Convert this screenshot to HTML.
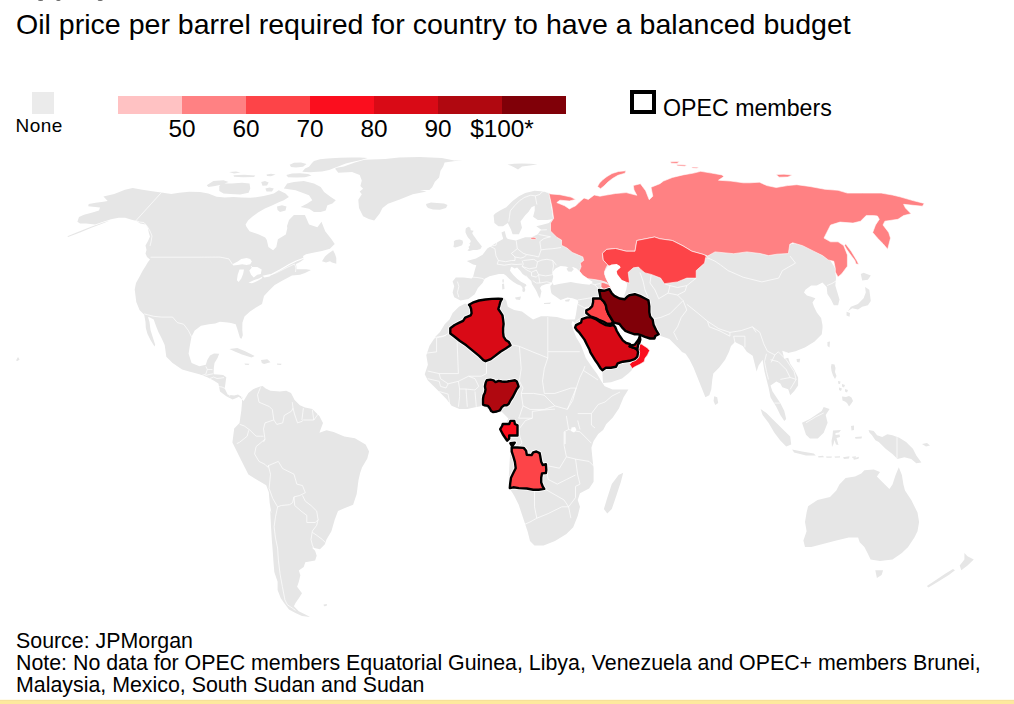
<!DOCTYPE html>
<html><head><meta charset="utf-8"><style>
html,body{margin:0;padding:0;background:#fff;}
body{width:1014px;height:704px;position:relative;overflow:hidden;font-family:"Liberation Sans",sans-serif;color:#000;}
.t{position:absolute;white-space:nowrap;}
.lab{position:absolute;top:116px;width:80px;text-align:center;font-size:23px;line-height:26px;transform:scaleX(1.06);}
svg{position:absolute;left:0;top:0;}
</style></head><body>
<div class="t" style="left:16px;top:5.8px;font-size:28.55px;line-height:36px;">Oil price per barrel required for country to have a balanced budget</div>
<div style="position:absolute;left:32px;top:92px;width:22px;height:21.5px;background:#ebebeb"></div>
<div class="t" style="left:15.5px;top:114.6px;font-size:19px;line-height:22px;letter-spacing:0.5px;">None</div>
<div style="position:absolute;left:118px;top:96px;width:64px;height:18px;background:#ffc2c3"></div><div style="position:absolute;left:182px;top:96px;width:64px;height:18px;background:#ff8183"></div><div style="position:absolute;left:246px;top:96px;width:64px;height:18px;background:#fd4448"></div><div style="position:absolute;left:310px;top:96px;width:64px;height:18px;background:#fb0e1e"></div><div style="position:absolute;left:374px;top:96px;width:64px;height:18px;background:#d90a16"></div><div style="position:absolute;left:438px;top:96px;width:64px;height:18px;background:#b00810"></div><div style="position:absolute;left:502px;top:96px;width:64px;height:18px;background:#800008"></div>
<div class="lab" style="left:142px">50</div><div class="lab" style="left:206px">60</div><div class="lab" style="left:270px">70</div><div class="lab" style="left:334px">80</div><div class="lab" style="left:398px">90</div><div class="lab" style="left:462px">$100*</div>
<div style="position:absolute;left:630px;top:90px;width:18px;height:16px;border:4px solid #000"></div>
<div class="t" style="left:663px;top:94.5px;font-size:23.2px;line-height:26px;">OPEC members</div>
<svg width="1014" height="704" viewBox="0 0 1014 704">
<path d="M77.4,221.8 L79,217 L84,214.7 L92.5,212.6 L99,210.4 L100,207.5 L88.2,206.3 L88.7,204 L95.8,202.8 L103.4,201.7 L107.7,201 L103.4,196.5 L114.2,194 L125,189.8 L132.7,188.1 L142.4,189.7 L152.2,191.3 L161.4,192.5 L171.3,194.1 L179.3,192.7 L189.2,191.7 L200,192.1 L208.3,193.5 L216.6,196.8 L224.9,197.4 L233.3,197 L241.4,197.6 L250.3,197.8 L256,197.3 L263.7,196.1 L269,194.8 L273.8,193.6 L278.8,190.2 L285.5,193.6 L288.9,197 L283.8,200.3 L278.8,202.2 L272,205.5 L264.9,208.5 L258,212.5 L252.5,216.5 L248,220.5 L245.6,224.6 L246.3,226.5 L249.5,231.3 L258.9,234.5 L265.2,237.6 L266.8,240 L268.4,247.1 L273.1,250.2 L276.3,247.1 L277.9,239.2 L285.8,234.5 L287.3,228.2 L287,225.9 L289,220 L293.9,214.9 L304.9,214.9 L309.1,224.6 L317.4,227.3 L321.5,221.8 L325.2,231.3 L331.5,239.2 L334.7,243.9 L329.9,248.7 L322,251 L314.2,252.6 L306,254.2 L303.1,256 L303.5,259.5 L300,262 L296,264 L296.8,269.2 L306.3,269.2 L311,270 L305,273 L300,274.7 L292,275.5 L282.6,280.5 L274.7,285 L268.4,291.3 L264,296 L262,303.9 L256,307.5 L250,311.5 L244.5,316.5 L242.4,322.8 L242.3,330 L242.8,335.2 L241.5,338.7 L240,338 L238.5,333 L237.3,328.9 L235.7,324.2 L231,323 L227.8,322.6 L219.9,321.8 L215.2,323.4 L208.9,324.2 L201,325.7 L194.7,330.5 L191.5,336.8 L190,344.7 L188.6,353.7 L191.6,363.1 L199.4,366.3 L205.8,364.7 L207.3,360 L210,355.5 L214,353.5 L219.2,353.7 L217.5,358 L214.5,363 L213.8,368 L213.6,374.2 L218,374.6 L223.1,375 L226.3,377.3 L225.5,383 L224.7,388.4 L227.8,394.7 L234.2,395.5 L238,394.5 L242.5,397.5 L242,399.4 L238.9,396.8 L235.7,398.3 L232.6,399.4 L226.3,396.3 L220,391.5 L218.4,383.6 L213.6,380.5 L207.3,377.3 L199.4,374.2 L190,371.8 L182.1,369.4 L172.6,363.1 L166.3,356.8 L164.7,345 L161.5,338 L158.4,332 L156,326 L153.7,319.4 L150,317.5 L148,317 L149.5,322 L150.5,330 L153,338 L155.2,344.7 L154.5,346.5 L150.5,340 L147.5,334 L145.8,328 L145.5,322 L144.2,314.7 L139.5,310 L136.3,302.1 L134.7,289.4 L136,283 L139.5,276.8 L142.5,271 L145.8,265.8 L148,262 L150,259.5 L147,257 L145.5,253.5 L146.5,250 L145.5,245.5 L148,241 L150,236.4 L148.9,233 L147.9,227.7 L145.7,224.5 L140.3,223.4 L135.9,220.7 L131.6,219.8 L125.1,217.8 L118.6,217.8 L111,219.3 L104,221.5 L95,224.5 L86,223.5 L80,223.5Z M68,236.9 L80,232.5 L92,227.6 L104,222.9 L110,220.5 L104,222.2 L91,226.8 L79,231.6 L67.5,236.2Z M206.7,185.2 L213.4,181 L223.5,180.2 L228.5,181.9 L221.8,184.4 L215.1,186 L208.4,186.9Z M219.3,186 L221.8,183.5 L231.9,183.5 L241.9,182.7 L249.5,183.5 L250.3,188.6 L248.6,192.7 L240.2,194.4 L230.2,193.9 L223.5,193.6 L219.3,191.1Z M233.5,175.3 L244,174.8 L255.3,175.6 L254,177 L243,177.2 L234,176.8Z M229,172 L236,171.4 L240.5,172.4 L234,173.4Z M266.5,174.6 L271,173.8 L275.6,174.6 L271,176.2 L267,176Z M261.2,182 L265,181 L268.7,182.5 L267,185.5 L262.5,185.8Z M265.4,188.5 L269.5,187.6 L273.8,188.6 L272,191.6 L266.5,191.4Z M286.3,175 L292,173.4 L300,173.3 L308,174 L311.5,175.4 L305,177.2 L296,177.6 L288,177.2Z M289.7,164.8 L294,162.8 L301,162.6 L306.5,164 L303,166.8 L296,167.6 L291,167Z M302.3,171.8 L305,168.5 L309,166.8 L312,163 L314,160.9 L320,159.2 L327.4,158.4 L340,157.8 L350.9,157.5 L360,157.6 L367.6,158 L360.9,160.1 L352,162 L345.8,163.4 L337.5,166.8 L329.1,170.1 L322,171.5 L317.4,171.8 L310,172.3Z M283.8,188.6 L287.2,183.5 L293.9,181.9 L303.9,181 L314,183.5 L320.7,186.9 L324.1,191.9 L330.8,196.9 L335.8,200.3 L332.4,203.6 L327.4,205.3 L325.7,210.4 L320.7,212 L314,212 L309,208.7 L300.6,207 L307.3,203.6 L312.3,200.3 L309,195.3 L302.3,192.7 L295.6,190.2 L290.5,189.4Z M277,206.5 L282,205.3 L286.5,206.5 L285.5,210.5 L280,212 L277.5,210Z M322,261.3 L325,256.5 L328.4,253.4 L333.1,250.2 L335,254 L336.3,258.1 L336.3,263.7 L332,262.5 L330,261.3 L326,262.5Z M335.5,168 L343.8,166.6 L354.9,162.4 L364.5,159.7 L385.2,159 L399,157.6 L419.7,156.9 L441.8,158 L454.3,160.4 L462.5,159.9 L444.6,162.4 L443.2,166.6 L440.5,170.7 L439.1,177.6 L434.9,181.8 L432.2,187.3 L429.4,190 L419.7,190 L426.6,191.4 L412.8,194.2 L399,199.7 L388,203.8 L382.5,208 L379.7,213.5 L374.2,220.4 L368.7,219 L363.1,216.3 L359,208 L358.3,199.7 L361.8,194.2 L359.7,191.4 L363.1,188.7 L360.4,185.9 L361.8,180.4 L359.7,174.9 L352.1,172.1 L338.3,172.8 L335.5,169.3Z M426,204 L431,202.5 L437,203 L444,203.5 L447.5,205 L446,208 L440,209.8 L433,209.5 L428,208 L426.5,206Z M229.4,348.9 L237.3,348.1 L245.2,351.3 L254.7,356 L251.5,357.6 L242,354.5 L234.2,351.3Z M261,360 L267.3,359.2 L270.5,362.3 L264.1,363.9 L261.8,363.1Z M244.5,363.4 L249.5,363.8 L248.5,365 L245,364.8Z M277,363.5 L281.5,363.8 L281,365 L277.2,364.8Z M242,399.4 L243.6,401 L248.4,393.1 L253.1,389.2 L259.4,386.8 L262.6,386 L265.7,388.4 L270.5,390.7 L279.9,391.5 L286.2,390.7 L291,393.1 L294.6,400 L299.9,405.3 L305,407.5 L312.3,408.9 L319.4,416 L323,423.1 L319.4,432.8 L326.5,430.2 L333.6,432 L344.3,436.4 L354.9,438.2 L365.6,444.4 L369.1,451.5 L367.3,458.6 L362,467.5 L360.2,472.8 L358.5,479.9 L356.7,494.1 L353.1,504.7 L344.3,508.3 L338,511 L334.7,519.8 L331.4,531.2 L326.5,539.4 L324.9,544.3 L320,549.2 L311.8,547.6 L315.1,550.8 L316.7,555.7 L315.1,560.6 L305.3,562.2 L303.7,567.1 L298.8,570.4 L300.4,575.3 L298.8,581.8 L297.1,586.7 L302,593.3 L298.8,598.2 L295.5,603.1 L293.9,606.3 L298.8,611.2 L305.3,614.5 L310.2,616.9 L302,616.1 L295.5,612.9 L289,609.6 L284.1,603.1 L280.8,598.2 L277.6,590 L277.6,581.8 L274.3,572 L273.5,562.2 L272.7,550.8 L271.8,539.4 L271,526.3 L270.2,510 L271.5,513.6 L269.7,503 L268.8,492.3 L266.2,485.2 L257.3,479.9 L248.4,474.6 L241.3,460.4 L236,449.7 L232.4,442.6 L233.3,435.5 L234.2,428.4 L239.5,423.1 L241.3,410.7 L242,402.6Z M548.9,193.1 L544.1,191.6 L534.7,190.8 L525.2,193.1 L518.9,196.3 L512.6,201 L506.3,207.3 L500,210.5 L495.2,213.6 L493.6,215.2 L494.4,223.1 L498.4,226.3 L503.1,226.3 L507.8,223.1 L511,229.4 L512.6,234.2 L518.9,234.2 L522,227.8 L520.5,221.5 L525.2,215.2 L528.4,212.1 L531.5,207.3 L534.7,205.8 L534.7,210.5 L533.1,216.8 L537.8,220 L547.3,220 L553,219 L548.9,223.1 L542.6,224.7 L536.3,226.3 L541,229.4 L537.8,234.2 L531.5,237.3 L525.2,237.3 L515.7,240.5 L507.8,238.9 L506.3,237.3 L504.7,231 L501.5,232.6 L503.1,238.9 L495.2,243.6 L487.3,248.4 L482.6,254.7 L476,258.5 L466.8,261 L473.1,264.5 L476.3,265.2 L474.7,270.5 L473.1,276.8 L471.6,278.4 L463.7,277.6 L455.8,277.6 L452.6,281.6 L454.2,286.3 L452.6,292.6 L454.2,297.3 L460.5,300.5 L468.4,298.9 L474.7,294.2 L477.9,287.9 L482.6,283.1 L484.7,278.7 L489.5,276.3 L495.8,274.7 L498.9,273.9 L503.7,273.9 L506,275.5 L509.2,278.7 L513.1,281.8 L517.1,284.2 L521,285.8 L522.6,288.1 L522.3,291.3 L524.2,292.3 L525.3,290 L524.6,287 L526.5,285.8 L525.8,284.2 L521,281.8 L517.1,278.7 L513.1,274.7 L510,270.8 L510.8,267.6 L511.6,266.8 L514.7,268.4 L517.1,267.6 L520.2,270.8 L522.6,273.9 L525.8,276.3 L528.9,278.7 L531.3,281 L532.1,284.2 L533.6,286.6 L535.2,288.9 L536.8,292.1 L538.4,296 L540,298.4 L540.7,294.4 L541.5,291.3 L540,288.1 L541.5,285.8 L545.5,284.2 L549.4,283.4 L551.5,282.3 L552.5,283.5 L550.3,286 L550.5,288.5 L551.2,292.4 L552,294.1 L557.1,297.5 L560.6,300 L567.4,297.5 L572.5,298.3 L577.6,300 L578.4,302.6 L577.6,304.3 L576.7,309.4 L575.9,314.5 L575,319 L574.1,319.4 L566.2,319.4 L556.8,317.1 L547.3,316.3 L541,316.3 L533.1,319.4 L528.4,316.3 L522,311.5 L514.2,310 L507.8,306.8 L506.3,300.5 L503.1,297.3 L501.5,298.9 L490.5,298.9 L479.4,300.5 L468.4,305.2 L465.2,303.6 L458.9,306.8 L452.6,313.1 L449.5,319.4 L444.7,324.2 L440,332 L435.8,336.3 L429.5,345.8 L426.3,355.2 L427.9,364.7 L424.7,374.2 L427.9,380.5 L434.2,386.8 L440.5,393.1 L446.8,399.4 L451.6,405.7 L459.4,408.9 L467.3,408.9 L475.2,407.3 L483.1,405.7 L489.4,410.5 L494.2,412.8 L502,412 L508.4,418.4 L505.2,424.7 L502,431 L505,437 L509,441 L510.7,445.5 L509.5,463.6 L508.4,486.4 L514.1,495.5 L518.6,504.5 L523.2,518.2 L527.7,531.8 L530,540.9 L534.5,545.5 L543.6,545.5 L555,540.9 L566.4,534.1 L573.2,527.3 L577.7,515.9 L580,506.8 L577.7,500 L580,493.2 L589.1,488.6 L593.6,481.8 L593.6,468.2 L592.5,459.1 L591.4,447.7 L593.6,440.9 L598.2,434.1 L603.1,430 L606.3,424.1 L612.6,417.8 L618.9,408.4 L623.6,397.3 L628.4,389.4 L625.2,389.4 L612.6,389.4 L604.7,386.3 L601.5,381.5 L596.8,373.6 L592.1,367.3 L585.8,357.9 L581,345.2 L576.3,337.4 L573.1,329.5 L571.5,324 L572.5,321 L574.5,322.5 L575.1,327.6 L576.8,330.2 L579.4,332.7 L581.9,336.1 L584.5,339.6 L587,344.7 L589.6,349.8 L590.4,352.3 L593,356.6 L595.6,360.8 L598.1,364.3 L600.7,368.5 L602.4,370.2 L602.5,376 L603.1,383 L611,382.3 L622,378.4 L628.3,373.6 L631.5,370.5 L632.2,368.5 L634.7,366.8 L639.8,364.3 L644.1,361.7 L645,358.3 L647.5,354.9 L649.6,350.6 L647.5,348.1 L645,346.4 L642.4,344.7 L639.8,343 L640.7,339.6 L639.8,335.3 L639,338.7 L637.3,341.3 L634.7,344.7 L631.3,345.5 L629.6,343.8 L626.2,343 L622.8,340.4 L619.4,335.3 L616.8,331 L615.1,326.8 L613.4,325.1 L613.5,322.3 L616.1,323.2 L619.5,324 L622,327.4 L625.4,330.8 L629.7,332.6 L634.8,334.3 L638.2,334.3 L640.8,335.1 L645,336.8 L650.1,338.5 L654.4,338.5 L655.3,336 L658.7,334.3 L659.4,335.5 L669.4,338.9 L674.1,343.7 L678.9,348.4 L682,352 L685.6,353.8 L689.6,359.7 L693.5,367.6 L697.5,377.5 L701.4,387.3 L705.4,397.2 L709.3,395.2 L711.3,389.3 L712.3,379.4 L713.3,373.5 L719.2,367.6 L725.1,359.7 L729,351.8 L731,345.9 L735,342 L742.8,345.9 L746.8,351.8 L752.7,355.8 L754.7,363.7 L756.6,371.6 L758.6,365.6 L762.6,359.7 L764.5,371.6 L766.5,379.4 L768.5,387.3 L770.5,397.2 L776.4,407.1 L780.3,414.9 L784.3,420.9 L786.2,418.9 L784.3,411 L780.3,403.1 L776.4,397.2 L772.4,391.3 L770.5,385.4 L776.4,381.4 L780.3,383.4 L782.3,387.3 L788.2,389.3 L790.2,395.2 L794.1,391.3 L798.1,385.4 L798.1,377.5 L794.1,369.6 L790.2,363.7 L788.2,357.8 L784.3,358.7 L782.4,351.2 L788,353.1 L795.5,351.2 L804.9,347.4 L814.3,341.8 L821.8,334.3 L822.5,328 L822.5,325.2 L821.1,318.1 L816.8,312.4 L814,306.7 L812.5,302.5 L815.4,298.2 L811.1,296.8 L806.9,295.4 L804,292.5 L805.4,289.7 L811.1,285.4 L816.8,285.4 L822.5,282.6 L826.7,286.9 L827.4,294 L831,299.6 L833.8,305.3 L838.1,305.3 L839.5,299.6 L837.4,292.5 L835.3,285.4 L836,278 L835,268 L830,260 L815,250 L795,243 L770,250 L720,248 L700,250 L680,243 L660,236 L640,237 L610,245 L598,252 L585,255 L575,250 L565,243 L557,235 L552,225 L553,218 L551,205Z M465.9,228.3 L468.4,226.8 L470.3,227.8 L470.8,230.2 L473.7,230.7 L472.2,233.1 L473.2,235 L475.1,237.5 L477.1,240.4 L479,242.8 L480.9,245.2 L481.9,246.6 L480.4,249.1 L477.1,250 L473.2,250 L469.3,251 L467.4,250.5 L469.3,248.6 L468.4,247.1 L469.3,246.2 L470.3,244.7 L469.3,243.7 L470.8,241.8 L470.3,239.9 L468.4,237.9 L467.4,236.5 L466.4,234.6 L465.5,232.6 L465.5,230.2Z M453.9,241.3 L455.8,239.9 L459.7,239.4 L462.6,240.4 L463,242.8 L462.1,245.2 L458.7,246.6 L455.3,247.6 L453.4,247.1 L453.9,244.2Z M507.5,164.5 L514,163.8 L522,163.6 L530,163.8 L537.5,164.2 L530,165.5 L522,166.5 L518,169.5 L514.5,167.5 L511,165.8Z M860.8,274.1 L863.6,272.7 L870.8,275.5 L867.9,279.8 L862.2,280.5Z M865.1,286.9 L869.3,289.7 L870.8,301.1 L867.9,305.3 L862.2,306.7 L858,309.6 L852.3,308.2 L848,311 L850.9,306.7 L858,303.9 L863.6,298.2 L865.8,292.5Z M846.6,311.8 L850,313 L849.5,316.7 L846.5,315.5Z M827.4,342 L830,341.5 L829.5,347.4 L827.5,346Z M796.5,359 L800.2,358.7 L799.5,362.4 L797,362Z M714.2,396.2 L717.2,397.2 L718.2,403.1 L715.2,405.1 L713.6,401.1Z M760.6,409 L766.5,413 L772.4,418.9 L778.3,424.8 L784.3,430.7 L790.2,436.6 L791.2,444.5 L786.2,446.5 L780.3,440.6 L774.4,432.7 L768.5,422.8 L762.6,415Z M792.1,449.5 L802,451.4 L813.8,453.4 L815.8,455.4 L806,455.4 L794.1,452.4Z M802,422.8 L809.9,418.9 L815.8,415 L821.7,411 L823.7,407.1 L829.6,409 L825.7,415 L827.6,422.8 L823.7,432.7 L817.8,438.6 L809.9,438.6 L806,434.7 L804,428.8Z M833,430.5 L841,430 L839,432.5 L835.5,433 L835.5,435 L839.5,434.5 L840,437 L836.5,438 L837.5,441.5 L838.5,445 L836,444.5 L834.5,440 L833.5,444 L832,447 L831.5,441 L832.5,436Z M831.5,364 L834.5,364.5 L835.5,368 L835,372 L836.5,376 L835,379 L833,375.5 L831.5,371 L831,367Z M842,396.5 L846,397 L849,396 L851.5,397.5 L853,401 L851,404 L849,406.5 L847,403 L845,401.5 L842.5,400.5Z M868.6,430 L873.7,430.9 L877.1,435.2 L882.2,436.9 L887.3,434.3 L892.4,435.2 L899.3,437.7 L906.1,442 L912.9,448.8 L916.3,455.6 L921.4,462.4 L916.3,463.3 L911.2,459 L904.4,457.3 L897.5,459 L892.4,453.9 L885.6,448.8 L878.8,442 L875.4,440.3 L872,435.2 L869.4,432.6Z M808.1,506.3 L817.5,500 L830,496.9 L836.3,490.6 L839.4,484.4 L845.6,478.1 L855,476.6 L861.3,473.4 L864.4,470.3 L873.8,469.4 L880,471.9 L876.9,476.6 L883.1,482.8 L889.4,489.1 L892.5,484.4 L895.6,475 L898.8,467.2 L901.9,475 L903.4,484.4 L905,490.6 L911.3,500 L914.4,506.3 L917.5,512.5 L919.1,521.9 L917.5,531.3 L914.4,537.5 L908.1,546.9 L901.9,553.1 L892.5,559.4 L880,560.9 L870.6,559.4 L867.5,553.1 L864.4,546.9 L859.7,542.2 L858.1,537.5 L848.8,537.5 L836.3,540.6 L823.8,543.8 L811.3,546.9 L805,546.9 L803.4,540.6 L806.6,531.3 L805,521.9 L806.6,512.5Z M875.3,570.3 L883.1,570.3 L881.6,575 L876.9,578.1Z M964.4,553.1 L967.5,556.3 L973.8,559.4 L967.5,565.6 L961.3,570.3 L959.7,565.6 L964.4,559.4Z M955,570.3 L948.8,575 L936.3,582.8 L928.4,587.5 L926.9,585.9 L936.3,579.7 L945.6,573.4 L953,569Z M607.3,497.7 L603.9,509.1 L607.3,513.6 L611.8,509.1 L616.4,495.5 L620.9,481.8 L623.2,472.7 L618.6,475 L611.8,484.1Z M502,284 L504,283.5 L504.5,289 L502.3,289.5Z M515,297.5 L521,296.5 L520,300 L516,299.5Z M544,303 L551,302.5 L550,304 L544,304Z M565,300 L570,299 L569,301.5 L565.5,301.5Z M842,384 L845,385 L844,387.5 L842,386.5Z M839,387.5 L842,388.5 L841,391 L839,390Z M845,389 L848,390 L847,392.5 L845,391.5Z M838,381 L840.5,381.5 L840,384 L838.3,383.7Z M853,458.5 L859,456.8 L858.5,458.8 L854,459.8Z M851,426 L854,425.5 L854,430 L851.5,430.5Z M855,437 L862,436.5 L861.5,438.5 L855.5,438.7Z M922,444 L927,443 L930,445.5 L926,446.5Z M502.3,279.5 L503.8,279.3 L503.8,282.5 L502.5,282.6Z M16,360.5 L18,357 L19.6,359.5 L17.5,360.9Z M323.5,604.5 L327,604 L326.5,606 L324,606.3Z M818,456.2 L823,455.8 L824,457.2 L818.5,457.4Z M826,456.6 L832,456.4 L831.5,457.8 L826.5,457.8Z M834.5,456.6 L840,456.2 L840,457.6 L835,457.8Z M843,457.2 L849.5,456.2 L849,458.6 L844,459Z M852,456.8 L856,456.3 L855.5,457.7 L852.5,457.9Z" fill="#e6e6e6"/>
<path d="M161.4,192.5 L135.9,220.7 M135.9,220.7 L139.5,222.0 L144.0,222.6 L147.0,226.0 L150.0,231.0 L152.0,236.0 L151.0,242.0 L150.0,246.0 M150.5,257.2 L170.0,257.2 L200.0,257.2 L220.0,257.1 L228.9,258.9 L232.4,264.2 M251.9,266.0 L251.0,267.0 M270.6,274.8 L276.0,273.0 L282.0,270.0 L288.0,267.0 L294.5,264.0 L296.0,268.0 L295.5,272.0 M144.2,313.9 L153.7,316.3 L161.6,317.1 L172.6,317.1 L177.3,322.6 L183.6,324.2 L188.4,330.5 L191.5,336.8 M205.8,366.3 L207.3,369.4 L205.8,374.2 L201.0,375.8 M207.3,369.4 L212.5,369.6 M205.5,375.5 L209.0,374.5 L213.0,373.8 M210.0,378.5 L213.6,377.0 L217.0,378.5 L220.0,378.2 L224.0,377.6 M218.4,386.5 L222.0,387.0 L225.0,388.4 M229.4,396.3 L230.5,393.5 M242.8,399.5 L241.3,397.0 M260.5,387.4 L257.5,394.8 L259.0,402.2 L269.4,406.6 L272.3,409.6 L273.8,419.9 L276.8,424.4 L282.7,422.9 L284.2,415.5 L291.6,411.1 L293.0,408.1 L292.3,402.2 M293.0,408.1 L294.5,414.0 L297.5,422.9 L301.9,421.4 L303.4,420.0 M303.4,408.1 L301.9,420.0 M312.3,409.6 L313.8,420.0 L318.2,414.0 M303.4,420.0 L313.8,420.0 M273.8,419.9 L265.0,422.9 L263.5,428.8 L265.0,439.2 L263.5,442.1 M263.5,436.2 L260.5,436.2 L256.1,436.2 L250.1,430.3 L244.2,425.9 L239.8,424.4 M248.7,430.3 L247.2,436.2 L239.8,442.1 L236.8,443.6 M265.0,439.2 L256.1,446.6 L254.6,454.0 L259.0,461.4 L264.9,464.3 L267.9,467.3 L268.4,465.7 L270.5,474.2 L269.1,488.4 L272.7,498.4 L277.6,506.9 M267.9,465.8 L278.3,461.4 L282.6,468.5 L294.0,474.2 L296.8,484.1 L302.5,485.6 L305.3,492.7 M277.6,506.9 L281.2,505.5 L289.7,504.7 L292.6,502.6 L294.0,496.9 L299.7,495.5 L305.3,492.7 M294.0,496.9 L294.7,505.5 L301.1,511.1 L306.8,515.4 L306.8,522.5 L315.3,522.5 L318.1,519.7 L316.7,511.1 L311.0,505.5 L305.3,501.2 L302.5,495.5 M318.1,519.7 L316.7,525.3 L312.4,531.0 L311.0,539.5 L312.4,545.2 L313.9,548.1 M312.4,532.4 L316.7,535.3 L322.4,539.5 L325.2,542.4 M277.6,506.9 L275.5,516.8 L274.1,526.8 L275.5,538.1 L277.6,548.1 L278.4,560.0 L280.0,573.7 L282.4,586.7 L284.9,599.8 L287.3,604.7 L292.2,608.0 L295.5,610.4 M508.8,221.7 L509.5,216.3 L510.3,210.8 L515.0,205.3 L519.7,200.6 L524.4,197.5 L530.6,195.2 L535.3,195.9 M535.3,195.9 L536.1,200.6 L536.9,204.5 M535.3,195.9 L540.0,194.4 L541.6,192.0 L544.7,191.3 L548.6,192.8 M490.1,246.3 L494.9,248.7 L496.0,255.8 L498.4,260.5 L497.2,264.1 M490.1,246.3 L496.0,245.1 L497.2,240.4 M500.8,238.0 L503.0,237.8 M516.2,240.4 L517.3,248.7 L511.4,253.4 L515.0,257.0 L520.9,258.1 M498.4,260.5 L505.5,261.7 L511.4,260.5 L515.0,260.5 L515.0,257.0 M517.3,248.7 L523.3,253.4 L526.8,254.6 L533.9,255.8 L538.6,257.0 M520.9,258.1 L524.4,257.0 L526.8,254.6 M539.8,241.6 L541.0,249.9 L538.6,257.0 M538.6,234.5 L544.0,235.5 L550.5,236.8 M536.3,230.9 L541.0,230.0 L546.9,229.7 M539.8,241.6 L544.0,238.5 L550.5,236.8 M541.0,249.9 L546.0,249.2 L552.8,248.7 L561.1,247.5 M497.2,264.1 L504.3,265.2 L511.4,264.1 L516.0,264.5 L522.1,264.1 M522.1,260.5 L523.3,264.1 L522.1,266.4 M523.3,260.5 L528.0,260.0 L533.9,259.3 L537.5,261.7 L536.3,267.6 L529.2,268.8 L522.1,266.4 M537.5,261.7 L542.0,260.0 L546.9,259.3 L552.8,260.5 L556.4,265.2 M552.8,260.5 L553.5,266.0 L552.8,270.0 L552.8,274.7 L545.7,275.9 L538.6,274.7 L536.3,270.0 M522.1,266.4 L526.8,270.0 L531.5,272.3 L536.3,270.0 M531.5,272.3 L531.5,275.9 L536.3,277.1 L538.6,274.7 M538.6,274.7 L539.8,283.0 L546.9,281.8 L551.7,283.0 M532.7,280.6 L536.3,283.0 L539.8,283.0 M526.0,275.5 L528.0,278.5 M472.4,277.1 L477.0,277.5 L481.8,278.3 L484.2,279.4 M457.4,281.6 L458.9,286.3 L457.4,292.6 L458.9,297.3 M577.6,300.0 L582.7,299.2 L587.8,298.3 L592.9,297.5 L596.0,297.0 M579.3,305.1 L584.4,307.7 L588.4,307.0 M594.6,284.7 L598.0,288.1 L598.4,290.7 M585.5,276.0 L590.0,283.0 L594.6,284.7 L600.0,283.5 M577.6,304.3 L579.3,305.1 M575.5,322.0 L579.5,318.5 M427.0,341.0 L437.0,337.0 L446.0,335.5 M436.6,337.8 L436.6,351.9 L426.4,353.1 M436.6,337.8 L443.0,336.5 L451.2,331.8 M457.1,341.6 L458.4,373.6 M427.7,371.0 L439.2,373.6 L458.4,373.6 M486.5,362.1 L486.5,373.6 M439.2,373.6 L440.5,378.7 L448.1,383.8 L458.4,381.3 L468.6,376.2 L475.0,376.2 L481.4,376.2 L486.5,373.6 M427.7,378.7 L439.2,381.3 L440.5,386.4 M439.2,391.5 L448.1,394.1 L449.4,401.7 L449.4,408.1 M459.6,389.0 L459.6,396.6 L458.4,406.8 M466.0,389.0 L467.3,406.8 M475.0,391.5 L476.3,406.8 M458.4,381.3 L459.6,389.0 L466.0,389.0 L475.0,390.0 L478.8,386.4 L475.0,378.7 L468.6,376.2 M440.5,386.4 L446.0,388.0 L448.1,383.8 M547.8,317.1 L547.8,351.7 L547.8,357.9 M511.0,344.7 L519.4,346.4 L533.0,352.0 L547.8,357.9 M547.8,351.7 L565.0,351.7 L579.8,351.7 M519.4,346.4 L521.2,368.6 L519.4,381.0 M547.8,357.9 L544.3,368.6 L542.5,381.0 L544.3,393.4 M519.4,381.0 L523.0,388.1 L521.2,393.4 L533.6,393.4 L544.3,395.2 M544.3,393.4 L554.9,393.4 L570.9,388.1 L576.2,388.1 M576.2,388.1 L579.8,377.5 L583.3,370.4 L585.0,366.0 M583.3,370.4 L592.0,376.0 L598.0,380.0 M521.2,393.4 L523.0,405.9 L519.4,416.5 L518.6,418.2 M544.3,395.2 L554.9,405.9 L567.3,409.4 L576.2,388.1 M554.9,405.9 L544.3,409.4 L530.1,409.4 L523.0,405.9 M567.3,409.4 L572.7,400.5 L576.2,388.1 M518.6,418.2 L532.3,418.2 L532.3,411.4 M518.6,429.5 L525.5,420.5 L532.3,418.2 M518.6,429.5 L520.0,437.0 L522.0,443.0 L518.0,447.0 M532.3,411.4 L543.0,410.0 L555.0,409.1 M566.4,415.9 L568.6,429.5 L564.1,431.8 L564.1,445.5 L566.4,456.8 M577.7,420.5 L580.0,429.5 M580.0,431.8 L591.4,443.2 M577.7,413.6 L591.4,413.6 L598.2,404.5 M591.4,413.6 L591.4,425.0 L595.0,428.0 M598.2,404.5 L605.0,402.0 L612.0,396.0 L620.0,392.0 M568.6,429.5 L575.0,431.0 L580.0,431.8 M548.2,465.9 L559.5,468.2 L566.4,456.8 M566.4,456.8 L575.5,459.1 L589.1,461.4 L593.6,465.9 M575.5,459.1 L577.7,475.0 L580.0,484.1 M547.0,472.7 L548.2,479.5 L557.3,484.1 L566.4,479.5 L575.5,475.0 M534.5,489.8 L534.5,506.8 L536.8,518.2 M543.6,488.6 L548.2,490.9 L564.1,500.0 L568.6,506.8 M536.8,518.2 L548.2,513.6 L561.8,506.8 L568.6,506.8 M568.6,506.8 L575.5,497.7 L575.5,486.4 L580.0,484.1 M568.6,506.8 L570.9,518.2 M523.2,525.0 L530.0,522.0 L536.8,518.2 M707.0,257.5 L715.0,261.2 L720.6,265.0 L728.1,270.6 L743.1,277.2 L761.8,281.9 L778.7,278.1 L782.4,270.6 L795.5,263.1 L790.0,256.0 M696.2,278.1 L686.8,285.6 L677.5,287.5 L670.0,285.6 L664.4,283.7 M670.0,285.6 L668.1,293.1 L677.5,295.0 L685.0,291.2 L686.8,285.6 M651.2,274.4 L650.0,283.0 L655.0,290.0 L658.7,298.7 M640.0,272.5 L643.0,281.0 L645.0,290.0 L648.0,297.0 M658.7,298.7 L668.1,293.1 M677.5,295.0 L679.3,296.8 L683.1,300.6 L677.5,306.2 L670.0,313.7 L660.6,317.5 L651.2,319.3 M683.1,300.6 L686.8,310.0 L681.2,317.5 L677.5,326.8 L673.7,332.4 L677.5,340.0 M686.8,304.3 L696.2,311.8 L707.5,321.2 L718.7,328.7 L729.9,332.4 L741.2,330.6 L752.4,326.8 L756.2,332.4 M707.5,321.2 L709.3,326.8 L720.0,331.0 L729.9,336.2 L729.9,332.4 M733.7,336.2 L735.6,345.6 M744.9,336.2 L744.9,347.4 M733.7,336.2 L744.9,336.2 M752.4,326.8 L759.9,332.4 L763.7,343.7 L767.4,351.2 L774.9,354.9 L771.2,362.4 M766.5,353.8 L764.5,361.7 L766.5,371.6 L768.5,379.4 M770.5,359.7 L778.3,361.7 L786.2,369.6 L790.2,377.5 M774.9,354.9 L778.3,351.8 L786.2,359.7 L794.1,371.6 L796.1,379.4 M780.3,379.4 L790.2,377.5 L796.1,379.4 L790.2,389.3 M774.4,403.1 L780.3,403.1 M806.0,422.8 L815.8,416.9 L823.7,413.0 M782.4,351.2 L788.0,353.1 M827.0,285.5 L832.0,283.5 L836.0,281.0 M612.5,287.5 L615.0,291.0 M897.0,437.2 L897.0,458.5" fill="none" stroke="#fff" stroke-width="0.7" stroke-linejoin="round"/>
<path d="M548.9,193.1 L550.5,193.9 L559.9,194.7 L571,197.1 L575.7,199.4 L569.4,201 L559.9,200.2 L556.8,202.6 L564.7,205.8 L569.4,208.9 L572.5,207.3 L575.7,205.8 L578.9,202.6 L584,198 L588.3,199.4 L594.2,195 L600,196.2 L604.9,195.3 L615.5,193.5 L626.2,192.6 L636.8,195.3 L634,190 L633.3,185.5 L640.4,183.7 L645.7,190.8 L649.2,199.7 L652.8,196.2 L651,187.3 L659.9,183.7 L663.4,181.1 L672.3,177.5 L683,174.9 L693.6,173.1 L700.7,171.3 L711.4,173.1 L722,174.9 L723.8,176.6 L718.5,180.2 L730.9,181.1 L743.3,182.8 L750,182.8 L759.4,182.2 L766.9,185.6 L776.2,187.5 L787.5,185.6 L796.8,184.7 L810,186.5 L825,189.3 L838.1,190.3 L847.4,193.1 L862.4,193.1 L881.2,193.1 L892.4,195 L899.9,196.8 L913,200.6 L924.3,203.4 L922.4,206.2 L913,205.3 L903.6,204.3 L905.5,208.1 L911.1,213.7 L903.6,215.6 L898,219.3 L884.9,221.2 L883,225 L888.7,232.4 L890.5,238.1 L887.7,249.3 L883,243.7 L877.4,238.1 L872.7,232.4 L875.5,225 L879.3,219.3 L877.4,216 L873.7,215.6 L866.2,215.6 L860.5,221.2 L853,223.1 L840,222.1 L830.6,225 L826.8,232.4 L824,238.1 L830.6,241.8 L838.1,241.8 L843.7,245.6 L847.4,254.9 L847.4,266.2 L841.8,273.7 L838,277 L835.3,272 L835.3,268.4 L833.8,261.3 L828.2,259.9 L822.5,255.6 L814,251.4 L802.6,245.7 L792.7,242.8 L789.8,244.3 L788.4,253.5 L777,254.2 L768.5,255.6 L760,253.5 L746.8,251.9 L733.7,253.7 L715,251.9 L707.8,256 L704.3,254.7 L691.8,251.2 L683,245.9 L672.3,240.5 L659.9,238.8 L654.6,237 L636.8,240.5 L635,251.2 L626.2,251.2 L615.5,248.5 L606.6,249.4 L602.4,253.3 L603.3,260.1 L607.8,264.6 L606,268 L604.6,271.6 L604.6,274.2 L605.9,278 L607.8,281.9 L609.5,285 L608.5,285.3 L606.8,282.6 L601.5,280.8 L596.1,279.8 L590.5,279 L587.8,278.7 L582.7,275.3 L579.3,271.1 L581.1,266.6 L580.2,263.1 L583.7,260.4 L582.8,256.9 L578.4,255.1 L572.2,252.4 L566.9,248 L561.5,245.3 L561.5,240 L556.8,237.3 L550.5,231 L550.5,223.1 L553.6,218.4 L552,207.3Z" fill="#ff8183" stroke="#fff" stroke-width="0.6" stroke-linejoin="round"/>
<path d="M597.5,186.5 L599.5,183 L603,179.5 L607,176.5 L612,173.5 L618.5,171.5 L626,170.8 L625,173.2 L618,175.3 L612.5,178.5 L608,182 L604,186 L600.5,188.8Z" fill="#ff8183" stroke="#fff" stroke-width="0.6" stroke-linejoin="round"/>
<path d="M670.5,161.8 L679.4,161.6 L677,163.5 L671,163.3Z" fill="#ff8183" stroke="#fff" stroke-width="0.6" stroke-linejoin="round"/>
<path d="M676.8,164.4 L686.5,165 L685,166.2 L677,165.8Z" fill="#ff8183" stroke="#fff" stroke-width="0.6" stroke-linejoin="round"/>
<path d="M691.8,167 L698.9,167.2 L697,168.2 L692,168Z" fill="#ff8183" stroke="#fff" stroke-width="0.6" stroke-linejoin="round"/>
<path d="M776.2,174.6 L784,174.2 L792.2,175 L788,177 L779,177.2Z" fill="#ff8183" stroke="#fff" stroke-width="0.6" stroke-linejoin="round"/>
<path d="M844.6,245.6 L845.6,243.7 L851.2,251.2 L856.8,260.5 L858.7,264.3 L856,264 L854.9,260.5 L849.3,253 L846.5,249Z" fill="#ff8183" stroke="#fff" stroke-width="0.6" stroke-linejoin="round"/>
<path d="M530.6,237.6 L534,237.2 L536.3,238.2 L535.5,239.4 L531,239.3Z" fill="#ff8183" stroke="#fff" stroke-width="0.6" stroke-linejoin="round"/>
<path d="M602.4,253.3 L606.6,249.4 L615.5,248.5 L626.2,251.2 L635,251.2 L636.8,240.5 L654.6,237 L659.9,238.8 L672.3,240.5 L683,245.9 L691.8,251.2 L704.3,254.7 L707.8,258.3 L705.6,257.5 L704.6,263.1 L696.2,270.6 L696.2,278.1 L686.8,278.1 L677.5,281.9 L664.4,283.7 L660.6,278.1 L651.2,274.4 L645,272.9 L641,269.7 L638.5,267.1 L633.4,267.8 L628.2,272.3 L629.5,283.1 L622,281 L616,275 L611,267 L607.8,265 L603.3,260.1Z" fill="#fd4448" stroke="#fff" stroke-width="0.6" stroke-linejoin="round"/>
<path d="M601.2,282.3 L604.5,282.9 L608,284.3 L611.5,287.5 L611.8,290.2 L607,290.3 L603,289.3 L601,286.5Z" fill="#ff8183" stroke="#fff" stroke-width="0.6" stroke-linejoin="round"/>
<path d="M639.8,335.3 L640.7,339.6 L639.8,343 L642.4,344.7 L645,346.4 L647.5,348.1 L649.6,350.6 L647.5,354.9 L645,358.3 L644.1,361.7 L639.8,364.3 L634.7,366.8 L632.2,368.5 L629.6,364.3 L634.7,359.1 L637.3,356.6 L638.1,352.3 L637.3,349.8 L638.1,344.7 L639.5,342.5 L640.3,339.6Z" fill="#fb0e1e" stroke="#fff" stroke-width="0.6" stroke-linejoin="round"/>
<path d="M552.5,272 L555.5,268.5 L560.6,266 L566,266.5 L570,268.5 L573,267 L576.5,268.5 L579.3,271.1 L582.7,275.3 L587.8,278.7 L592.9,282.1 L589.5,284.7 L582.7,283.9 L575.9,283 L570.8,282.1 L564.8,283 L558.9,283.9 L553.7,285.3 L552,282.1 L553.2,277Z M604.6,271.6 L607.8,266.5 L611.6,264.6 L616.7,264 L619.9,265.9 L620.6,267.8 L618,269.7 L616.7,271.6 L617.4,274.2 L619.9,277.4 L621.9,280 L625,281.2 L627,283.5 L627,285.7 L626.3,289.5 L625,293.4 L623.8,296.6 L622.5,299.1 L619,299.2 L616.1,298.5 L613.5,295.9 L611.6,290.8 L610.3,287 L607.8,281.9 L605.9,278 L604.6,274.2Z M232.4,264.2 L237.7,261.5 L241.3,258.9 L246.6,258 L250.2,258.9 L251.9,261.5 L250.2,264.2 L246.6,265.1 L242.2,264.2 L237.7,265.1 L233.3,265.5Z M239.5,269.5 L244,269.5 L243.1,274 L241.3,278.4 L238.6,282 L236.9,280.2 L237.7,274.8Z M251.9,266.9 L257.3,266.9 L261.7,269.5 L260.8,274 L257.3,274.8 L253.7,277.5 L251.1,274.8 L249.3,270.4 L251.1,268.6Z M248.4,282.8 L253.7,280.2 L259,278.4 L262.6,276.6 L261.7,278.4 L257.3,281.1 L251.9,283.3Z M262.6,275.7 L267,274.8 L270.6,274 L269.7,276.6 L264.4,277.5Z M571.5,427.5 L575,427 L576.5,430 L574,432.5 L571,431Z M564.5,432 L565.5,432 L565.5,444 L564.5,444Z" fill="#fff"/>
<path d="M566.5,268.8 L569,267 L572,267.3 L573.8,269.3 L571.5,271.8 L568.2,271.6Z" fill="#e6e6e6"/>
<path d="M270.0,275.3 L280.3,269.8 L289.2,264.5 L296.3,261.0 L303.0,258.5" fill="none" stroke="#fff" stroke-width="1.3" stroke-linecap="round" stroke-linejoin="round"/>
<path d="M593.1,298.5 L597.3,298.5 L600.7,298.5 L604.1,301.9 L605.9,305.3 L606.7,309.6 L608.4,313.8 L611,318.1 L613.5,322.3 L611,324 L607.6,324 L603.3,321.5 L599,319.8 L595.6,318.1 L590.5,316.4 L586.3,313 L586.3,310.4 L589.7,308.7 L592.2,306.1 L593.1,301.9Z M607.6,324 L611,324 L613.5,322.3 L613.4,325.1 L610,325.9Z M576,325.1 L581.1,322.5 L581.9,319.1 L587,317.4 L591.3,317.4 L595.6,319.1 L600.7,322.5 L605.8,325.1 L610,325.9 L613.4,325.1 L615.1,326.8 L616.8,331 L619.4,335.3 L622.8,340.4 L626.2,343 L629.6,343.8 L631.3,345.5 L629.6,346.4 L634.7,348.1 L637.3,349.8 L638.1,352.3 L637.3,356.6 L634.7,359.1 L629.6,360.8 L622.8,361.7 L617.7,363.4 L616,366.8 L610.9,367.7 L605.8,367.7 L602.4,370.2 L600.7,368.5 L598.1,364.3 L595.6,360.8 L593,356.6 L590.4,352.3 L589.6,349.8 L587,344.7 L584.5,339.6 L581.9,336.1 L579.4,332.7 L576.8,330.2 L575.1,327.6Z M629.6,346.4 L631.3,345.5 L634.7,344.7 L637.3,341.3 L639,338.7 L639.8,336 L640.3,339.6 L639.5,342.5 L638.1,344.7 L637.3,349.8 L634.7,348.1Z M599,290 L604.1,290.8 L609.3,289.1 L611.8,293.4 L614.4,295.9 L619.5,298.5 L624.6,299.3 L627.1,296.8 L629.7,295.1 L634.8,294.2 L639.9,295.9 L645,298.5 L648.4,300.2 L649.3,306.1 L649.3,312.1 L650.1,316.4 L652.7,319.8 L653.6,324.9 L656.1,330 L658.7,334.3 L655.3,336 L654.4,338.5 L650.1,338.5 L645,336.8 L640.8,335.1 L638.2,334.3 L634.8,334.3 L629.7,332.6 L625.4,330.8 L622,327.4 L619.5,324 L616.1,323.2 L613.5,322.3 L611,318.1 L608.4,313.8 L606.7,309.6 L605.9,305.3 L604.1,301.9 L600.7,298.5 L599.9,294.2Z M469,304.8 L472.7,302.7 L479.1,300.5 L485.5,299.5 L491.9,298.9 L498.3,298.6 L502,298.9 L500.4,301.6 L499.3,305.8 L498.3,309 L500.4,312.2 L502.5,315.4 L503.1,319.7 L503.6,324 L503.1,328.2 L503.1,332.5 L503.6,336.7 L505.7,339.9 L508.9,342.1 L510.5,345.3 L505.7,348.5 L500.4,351.7 L495.1,355.9 L490.8,359.1 L485.5,361.2 L483.4,360.2 L479.1,355.9 L472.7,350.6 L466.3,345.3 L459.9,341 L454.6,336.7 L450.3,333.5 L450.3,328.2 L454.6,325 L458.8,322.9 L463.1,320.8 L465.2,317.6 L470.6,315.4 L471.6,313.3 L471.1,309 L470,305.8Z M486.8,380.3 L490.5,379.6 L493.6,380.3 L495.5,382.1 L498.6,380.9 L501.8,381.5 L504.3,381.8 L507.4,381.5 L511.1,380.9 L514.9,380.3 L516.8,381.5 L518,384.6 L518.6,386.5 L516.8,389 L514.9,392.8 L513,396.5 L510.5,400.3 L508.6,404 L506.8,405.3 L504.3,405.3 L501.8,407.1 L499.9,410.3 L496.8,411.5 L493,412.1 L491.1,410.9 L489.9,408.4 L488,405.9 L484.3,405.3 L483,404.6 L483,399 L483.6,395.3 L484.9,392.8 L485.5,389.6 L484.9,386.5 L485.5,383.4 L486.1,381.5Z M502.8,424 L509.2,424 L510.4,420.9 L514.3,420.9 L514.9,424 L517.5,425.3 L517.5,435.5 L509.2,435.5 L509.2,438.7 L507.2,440.7 L502.8,434.3 L500.2,429.2 L502.1,426Z M511.7,447.5 L517.3,447.5 L523.7,447.9 L526.1,450.7 L526.8,454.7 L531.6,455.1 L533.2,452.3 L536.4,451.5 L539.6,453.1 L540.4,457.1 L541.2,461.8 L542.7,465 L545.9,464.2 L546.3,469.8 L545.9,473 L542,473.4 L541.2,477.7 L541.2,482.5 L542.7,486.5 L544.3,488.9 L538.8,489.7 L533.2,489.7 L526.8,488.5 L518.9,488.1 L513.3,487.3 L509.8,488.1 L510.2,483.3 L511,477.7 L513.3,473 L515.7,468.2 L514.9,461.8 L513.3,456.3 L511.7,451.5Z M510.3,443.2 L514.8,442.6 L512.2,446.3Z" fill="none" stroke="#fff" stroke-width="4" stroke-linejoin="round"/>
<path d="M593.1,298.5 L597.3,298.5 L600.7,298.5 L604.1,301.9 L605.9,305.3 L606.7,309.6 L608.4,313.8 L611,318.1 L613.5,322.3 L611,324 L607.6,324 L603.3,321.5 L599,319.8 L595.6,318.1 L590.5,316.4 L586.3,313 L586.3,310.4 L589.7,308.7 L592.2,306.1 L593.1,301.9Z" fill="#fd4448" stroke="#000" stroke-width="2.4" stroke-linejoin="round"/>
<path d="M607.6,324 L611,324 L613.5,322.3 L613.4,325.1 L610,325.9Z" fill="#d90a16" stroke="#000" stroke-width="2.4" stroke-linejoin="round"/>
<path d="M576,325.1 L581.1,322.5 L581.9,319.1 L587,317.4 L591.3,317.4 L595.6,319.1 L600.7,322.5 L605.8,325.1 L610,325.9 L613.4,325.1 L615.1,326.8 L616.8,331 L619.4,335.3 L622.8,340.4 L626.2,343 L629.6,343.8 L631.3,345.5 L629.6,346.4 L634.7,348.1 L637.3,349.8 L638.1,352.3 L637.3,356.6 L634.7,359.1 L629.6,360.8 L622.8,361.7 L617.7,363.4 L616,366.8 L610.9,367.7 L605.8,367.7 L602.4,370.2 L600.7,368.5 L598.1,364.3 L595.6,360.8 L593,356.6 L590.4,352.3 L589.6,349.8 L587,344.7 L584.5,339.6 L581.9,336.1 L579.4,332.7 L576.8,330.2 L575.1,327.6Z" fill="#d90a16" stroke="#000" stroke-width="2.4" stroke-linejoin="round"/>
<path d="M629.6,346.4 L631.3,345.5 L634.7,344.7 L637.3,341.3 L639,338.7 L639.8,336 L640.3,339.6 L639.5,342.5 L638.1,344.7 L637.3,349.8 L634.7,348.1Z" fill="#d90a16" stroke="#000" stroke-width="2.4" stroke-linejoin="round"/>
<path d="M599,290 L604.1,290.8 L609.3,289.1 L611.8,293.4 L614.4,295.9 L619.5,298.5 L624.6,299.3 L627.1,296.8 L629.7,295.1 L634.8,294.2 L639.9,295.9 L645,298.5 L648.4,300.2 L649.3,306.1 L649.3,312.1 L650.1,316.4 L652.7,319.8 L653.6,324.9 L656.1,330 L658.7,334.3 L655.3,336 L654.4,338.5 L650.1,338.5 L645,336.8 L640.8,335.1 L638.2,334.3 L634.8,334.3 L629.7,332.6 L625.4,330.8 L622,327.4 L619.5,324 L616.1,323.2 L613.5,322.3 L611,318.1 L608.4,313.8 L606.7,309.6 L605.9,305.3 L604.1,301.9 L600.7,298.5 L599.9,294.2Z" fill="#800008" stroke="#000" stroke-width="2.4" stroke-linejoin="round"/>
<path d="M469,304.8 L472.7,302.7 L479.1,300.5 L485.5,299.5 L491.9,298.9 L498.3,298.6 L502,298.9 L500.4,301.6 L499.3,305.8 L498.3,309 L500.4,312.2 L502.5,315.4 L503.1,319.7 L503.6,324 L503.1,328.2 L503.1,332.5 L503.6,336.7 L505.7,339.9 L508.9,342.1 L510.5,345.3 L505.7,348.5 L500.4,351.7 L495.1,355.9 L490.8,359.1 L485.5,361.2 L483.4,360.2 L479.1,355.9 L472.7,350.6 L466.3,345.3 L459.9,341 L454.6,336.7 L450.3,333.5 L450.3,328.2 L454.6,325 L458.8,322.9 L463.1,320.8 L465.2,317.6 L470.6,315.4 L471.6,313.3 L471.1,309 L470,305.8Z" fill="#d90a16" stroke="#000" stroke-width="2.4" stroke-linejoin="round"/>
<path d="M486.8,380.3 L490.5,379.6 L493.6,380.3 L495.5,382.1 L498.6,380.9 L501.8,381.5 L504.3,381.8 L507.4,381.5 L511.1,380.9 L514.9,380.3 L516.8,381.5 L518,384.6 L518.6,386.5 L516.8,389 L514.9,392.8 L513,396.5 L510.5,400.3 L508.6,404 L506.8,405.3 L504.3,405.3 L501.8,407.1 L499.9,410.3 L496.8,411.5 L493,412.1 L491.1,410.9 L489.9,408.4 L488,405.9 L484.3,405.3 L483,404.6 L483,399 L483.6,395.3 L484.9,392.8 L485.5,389.6 L484.9,386.5 L485.5,383.4 L486.1,381.5Z" fill="#b00810" stroke="#000" stroke-width="2.4" stroke-linejoin="round"/>
<path d="M502.8,424 L509.2,424 L510.4,420.9 L514.3,420.9 L514.9,424 L517.5,425.3 L517.5,435.5 L509.2,435.5 L509.2,438.7 L507.2,440.7 L502.8,434.3 L500.2,429.2 L502.1,426Z" fill="#fb0e1e" stroke="#000" stroke-width="2.4" stroke-linejoin="round"/>
<path d="M511.7,447.5 L517.3,447.5 L523.7,447.9 L526.1,450.7 L526.8,454.7 L531.6,455.1 L533.2,452.3 L536.4,451.5 L539.6,453.1 L540.4,457.1 L541.2,461.8 L542.7,465 L545.9,464.2 L546.3,469.8 L545.9,473 L542,473.4 L541.2,477.7 L541.2,482.5 L542.7,486.5 L544.3,488.9 L538.8,489.7 L533.2,489.7 L526.8,488.5 L518.9,488.1 L513.3,487.3 L509.8,488.1 L510.2,483.3 L511,477.7 L513.3,473 L515.7,468.2 L514.9,461.8 L513.3,456.3 L511.7,451.5Z" fill="#fd4448" stroke="#000" stroke-width="2.4" stroke-linejoin="round"/>
<path d="M510.3,443.2 L514.8,442.6 L512.2,446.3Z" fill="#fd4448" stroke="#000" stroke-width="2.4" stroke-linejoin="round"/>
</svg>
<div class="t" style="left:16px;top:629.8px;font-size:21.37px;line-height:22.1px;">Source: JPMorgan<br>Note: No data for OPEC members Equatorial Guinea, Libya, Venezuela and OPEC+ members Brunei,<br>Malaysia, Mexico, South Sudan and Sudan</div>
<div style="position:absolute;left:0;top:699px;width:1014px;height:1px;background:#fffbea"></div><div style="position:absolute;left:0;top:700px;width:1014px;height:1px;background:#f6e09b"></div><div style="position:absolute;left:0;top:701px;width:1014px;height:3px;background:#fde99d"></div>
<svg style="position:absolute;left:0;top:0" width="120" height="4"><ellipse cx="40.6" cy="0" rx="2.6" ry="1.1" fill="#666"/><ellipse cx="58.4" cy="0" rx="2.2" ry="1.1" fill="#666"/><ellipse cx="100.2" cy="0" rx="2.6" ry="1.1" fill="#666"/></svg>
</body></html>
